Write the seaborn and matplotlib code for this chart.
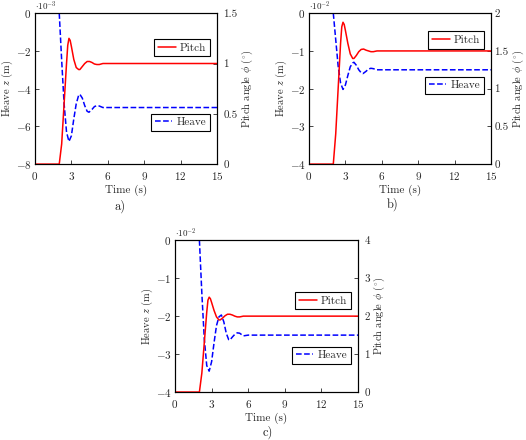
import matplotlib
matplotlib.use("Agg")
import matplotlib.pyplot as plt
import seaborn as sns

# panel a) heave in 1e-3 m, pitch in deg
t_pitch_a = [0, 2.0, 2.2, 2.4, 2.6, 2.7, 2.8, 2.9, 3.0, 3.2, 3.4, 3.6, 3.7, 3.9, 4.1, 4.3, 4.5, 4.7, 4.9, 5.1, 5.3, 5.6, 15]
pitch_a = [0, 0, 0.2, 0.6, 1.0, 1.18, 1.25, 1.23, 1.17, 1.04, 0.96, 0.94, 0.94, 0.97, 1.0, 1.02, 1.02, 1.01, 0.995, 0.99, 0.99, 1.0, 1.0]
t_heave_a = [0, 2.0, 2.2, 2.4, 2.6, 2.8, 3.0, 3.2, 3.4, 3.6, 3.7, 3.9, 4.1, 4.3, 4.45, 4.7, 4.9, 5.1, 5.3, 5.6, 6.0, 15]
heave_a = [0, 0, -2.5, -4.8, -6.3, -6.8, -6.5, -5.6, -4.8, -4.35, -4.3, -4.5, -4.9, -5.2, -5.25, -5.1, -4.95, -4.9, -4.92, -5.0, -5.0, -5.0]

# panel b) heave in 1e-2 m
t_pitch_b = [0, 2.0, 2.2, 2.4, 2.6, 2.7, 2.8, 2.9, 3.0, 3.2, 3.4, 3.6, 3.7, 3.9, 4.1, 4.3, 4.5, 4.7, 4.9, 5.1, 5.3, 5.6, 15]
pitch_b = [0, 0, 0.4, 1.0, 1.6, 1.82, 1.88, 1.85, 1.77, 1.6, 1.46, 1.4, 1.4, 1.44, 1.49, 1.52, 1.525, 1.51, 1.5, 1.49, 1.49, 1.5, 1.5]
t_heave_b = [0, 2.0, 2.2, 2.4, 2.6, 2.8, 3.0, 3.2, 3.4, 3.6, 3.7, 3.9, 4.1, 4.3, 4.45, 4.7, 4.9, 5.1, 5.3, 5.6, 15]
heave_b = [0, 0, -0.7, -1.4, -1.85, -2.02, -1.9, -1.65, -1.42, -1.32, -1.3, -1.38, -1.5, -1.58, -1.6, -1.54, -1.48, -1.46, -1.47, -1.5, -1.5]

# panel c) heave in 1e-2 m
t_pitch_c = [0, 2.0, 2.2, 2.4, 2.6, 2.7, 2.8, 2.9, 3.0, 3.2, 3.4, 3.6, 3.7, 3.9, 4.1, 4.3, 4.5, 4.7, 4.9, 5.1, 5.3, 5.6, 15]
pitch_c = [0, 0, 0.5, 1.3, 2.1, 2.42, 2.5, 2.46, 2.36, 2.15, 1.98, 1.9, 1.9, 1.95, 2.01, 2.05, 2.05, 2.03, 2.0, 1.98, 1.98, 2.0, 2.0]
t_heave_c = [0, 2.0, 2.2, 2.4, 2.6, 2.8, 3.0, 3.2, 3.4, 3.6, 3.8, 4.0, 4.2, 4.4, 4.5, 4.7, 4.9, 5.1, 5.3, 5.6, 6.0, 15]
heave_c = [0, 0, -1.4, -2.6, -3.3, -3.45, -3.2, -2.7, -2.25, -2.02, -1.97, -2.15, -2.45, -2.62, -2.63, -2.55, -2.48, -2.44, -2.45, -2.52, -2.5, -2.5]

time_ticks = [0, 3, 6, 9, 12, 15]

sns.set_theme(style="ticks")
plt.rcParams["font.family"] = ["cmr10", "DejaVu Serif"]
plt.rcParams["mathtext.fontset"] = "cm"
plt.rcParams["axes.formatter.use_mathtext"] = True
plt.rcParams["axes.unicode_minus"] = True

FS = 8

fig = plt.figure(figsize=(5.26, 4.40), dpi=100)

panels = [
    dict(rect=[0.0665, 0.627, 0.346, 0.343], th=t_heave_a, h=heave_a, tp=t_pitch_a, p=pitch_a,
         hlim=(-8, 0), hticks=[-8, -6, -4, -2, 0], plim=(0, 1.5), pticks=[0, 0.5, 1, 1.5],
         scale=r"$\cdot 10^{-3}$", leg_p=(0.96, 0.83), leg_h=(0.96, 0.335), tag="a)",
         tagpos=(0.228, 0.53), rpad=4.5),
    dict(rect=[0.5875, 0.627, 0.346, 0.343], th=t_heave_b, h=heave_b, tp=t_pitch_b, p=pitch_b,
         hlim=(-4, 0), hticks=[-4, -3, -2, -1, 0], plim=(0, 2), pticks=[0, 0.5, 1, 1.5, 2],
         scale=r"$\cdot 10^{-2}$", leg_p=(0.96, 0.88), leg_h=(0.96, 0.58), tag="b)",
         tagpos=(0.747, 0.535), rpad=2.5),
    dict(rect=[0.3327, 0.109, 0.348, 0.345], th=t_heave_c, h=heave_c, tp=t_pitch_c, p=pitch_c,
         hlim=(-4, 0), hticks=[-4, -3, -2, -1, 0], plim=(0, 4), pticks=[0, 1, 2, 3, 4],
         scale=r"$\cdot 10^{-2}$", leg_p=(0.96, 0.66), leg_h=(0.96, 0.30), tag="c)",
         tagpos=(0.509, 0.018), rpad=4.5),
]

leg_kw = dict(fontsize=FS, frameon=True, fancybox=False, framealpha=1, edgecolor="black",
              handlelength=1.6, borderpad=0.35, handletextpad=0.35, borderaxespad=0)

for pn in panels:
    ax = fig.add_axes(pn["rect"])
    ax2 = ax.twinx()
    sns.lineplot(x=pn["th"], y=pn["h"], ax=ax, color="blue", linestyle="--",
                 linewidth=1.1, label="Heave", sort=False)
    sns.lineplot(x=pn["tp"], y=pn["p"], ax=ax2, color="red", linewidth=1.1,
                 label="Pitch", sort=False)

    ax.set_xlim(0, 15)
    ax.set_xticks(time_ticks)
    ax.set_ylim(*pn["hlim"])
    ax.set_yticks(pn["hticks"])
    ax2.set_ylim(*pn["plim"])
    ax2.set_yticks(pn["pticks"])
    ax2.set_yticklabels([f"{v:g}" for v in pn["pticks"]])

    for a in (ax, ax2):
        a.tick_params(direction="in", length=3, width=0.6, labelsize=FS, pad=2.5)
        for s in a.spines.values():
            s.set_linewidth(0.8)
            s.set_color("black")
    ax.tick_params(axis="x", pad=4)
    ax2.tick_params(axis="y", pad=pn["rpad"])

    ax.set_xlabel("Time (s)", fontsize=FS, labelpad=2)
    ax.set_ylabel(r"Heave $z$ (m)", fontsize=7.5, labelpad=0.5)
    ax2.set_ylabel(r"Pitch angle $\phi$ ($^{\circ}$)", fontsize=7.5, labelpad=1.5)
    ax.text(0.0, 1.0, pn["scale"], transform=ax.transAxes, fontsize=6.5,
            ha="left", va="bottom")

    ax.legend([ax.get_lines()[0]], ["Heave"], loc="upper right", bbox_to_anchor=pn["leg_h"],
              **leg_kw).get_frame().set_linewidth(0.8)
    ax2.legend([ax2.get_lines()[0]], ["Pitch"], loc="upper right", bbox_to_anchor=pn["leg_p"],
               **leg_kw).get_frame().set_linewidth(0.8)

    fig.text(pn["tagpos"][0], pn["tagpos"][1], pn["tag"], fontsize=FS + 1, ha="center", va="center")

fig.savefig("out.png", dpi=100)
